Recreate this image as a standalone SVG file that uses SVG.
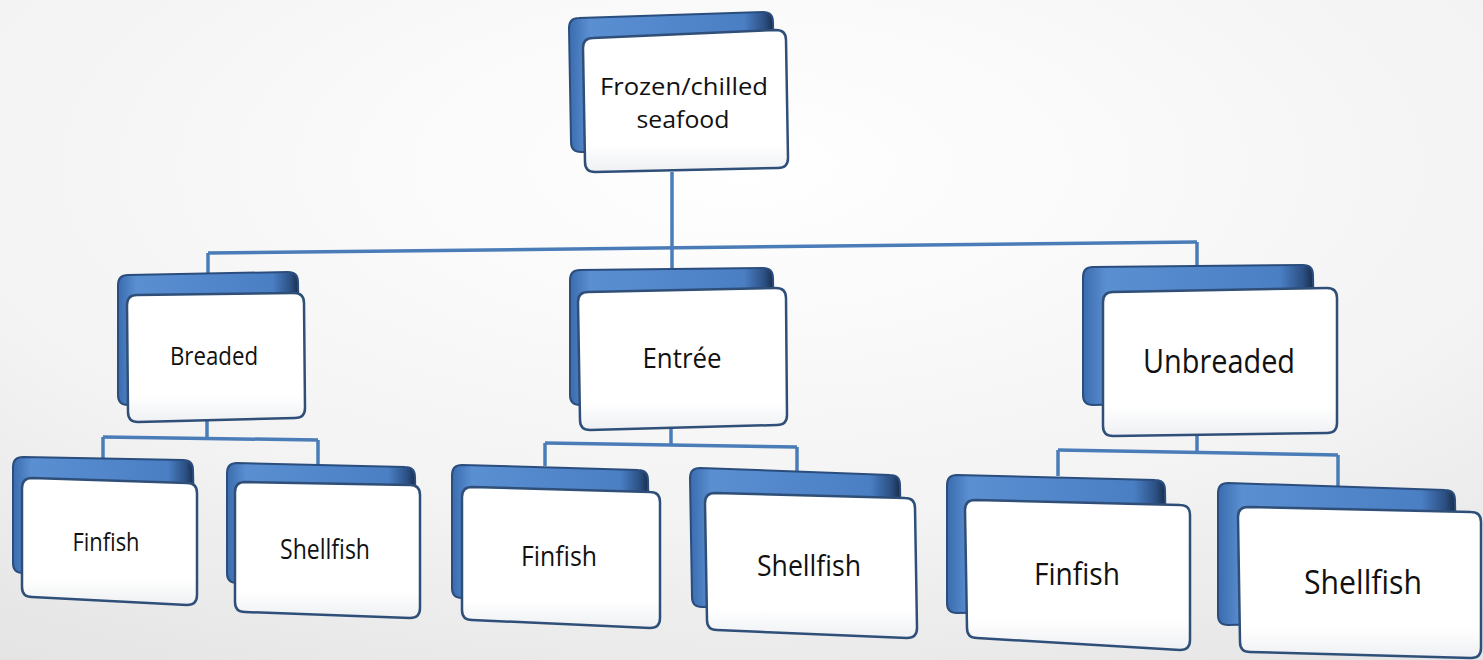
<svg xmlns="http://www.w3.org/2000/svg" width="1483" height="660" viewBox="0 0 1483 660">
<defs>
<radialGradient id="bg" cx="0.5" cy="0.25" r="0.9">
<stop offset="0" stop-color="#ffffff"/>
<stop offset="0.6" stop-color="#f3f3f3"/>
<stop offset="1" stop-color="#e4e4e4"/>
</radialGradient>
<linearGradient id="blue" x1="0" y1="0" x2="1" y2="0">
<stop offset="0" stop-color="#3a6cae"/>
<stop offset="0.1" stop-color="#5a8fd2"/>
<stop offset="0.85" stop-color="#4a7fc4"/>
<stop offset="0.95" stop-color="#2b4f82"/>
<stop offset="1" stop-color="#16263f"/>
</linearGradient>
<linearGradient id="white" x1="0" y1="0" x2="0" y2="1">
<stop offset="0" stop-color="#ffffff"/>
<stop offset="0.8" stop-color="#ffffff"/>
<stop offset="1" stop-color="#eef0f3"/>
</linearGradient>
</defs>
<style>
.back{fill:url(#blue);stroke:#2a4d7d;stroke-width:2}
.front{fill:url(#white);stroke:#2f4f78;stroke-width:2.5}
.conn{fill:none;stroke:#4a7cb8;stroke-width:3.5}
text{font-family:"Open Sans","Liberation Sans",sans-serif;fill:#111;text-anchor:middle}
</style>
<rect width="1483" height="660" fill="url(#bg)"/>
<g id="connectors" class="conn">
<path d="M672,172 L672,248"/>
<path d="M208,253 L1197,242"/>
<path d="M208,253 V276"/>
<path d="M672,248 V271"/>
<path d="M1197,242 V268"/>
<path d="M207,420 V438"/>
<path d="M103,437 L318,440"/>
<path d="M103,437 V458"/>
<path d="M318,440 V465"/>
<path d="M671,428 V445"/>
<path d="M545,443 L797,447"/>
<path d="M545,443 V466"/>
<path d="M797,447 V472"/>
<path d="M1197,436 V452"/>
<path d="M1058,450 L1338,455"/>
<path d="M1058,450 V476"/>
<path d="M1338,455 V487"/>
</g>
<g id="root">
<path class="back" d="M579,18 L763,12 Q773,12 773,22 L775,140 Q775,150 765,150 L581,152 Q571,152 571,142 L569,28 Q569,18 579,18Z"/>
<path class="front" d="M593,38 L776,30 Q786,30 786,40 L788,158 Q788,168 778,168 L595,172 Q585,172 585,162 L583,48 Q583,38 593,38Z"/>
<text x="684" y="95" font-size="24" textLength="168" lengthAdjust="spacingAndGlyphs">Frozen/chilled</text>
<text x="683" y="128" font-size="24" textLength="93" lengthAdjust="spacingAndGlyphs">seafood</text>
</g>
<g id="breaded">
<path class="back" d="M128,275 L288,272 Q298,272 298,282 L300,390 Q300,400 290,400 L128,405 Q118,405 118,395 L118,285 Q118,275 128,275Z"/>
<path class="front" d="M137,295 L294,293 Q304,293 304,303 L305,408 Q305,418 295,418 L138,422 Q128,422 128,412 L127,305 Q127,295 137,295Z"/>
<text x="214" y="365" font-size="26" textLength="88" lengthAdjust="spacingAndGlyphs">Breaded</text>
</g>
<g id="entree">
<path class="back" d="M580,270 L763,268 Q773,268 773,278 L775,390 Q775,400 765,400 L580,405 Q570,405 570,395 L570,280 Q570,270 580,270Z"/>
<path class="front" d="M588,292 L776,288 Q786,288 786,298 L787,415 Q787,425 777,425 L590,430 Q580,430 580,420 L578,302 Q578,292 588,292Z"/>
<text x="682" y="368" font-size="28" textLength="79" lengthAdjust="spacingAndGlyphs">Entrée</text>
</g>
<g id="unbreaded">
<path class="back" d="M1093,267 L1303,265 Q1313,265 1313,275 L1315,390 Q1315,400 1305,400 L1093,405 Q1083,405 1083,395 L1083,277 Q1083,267 1093,267Z"/>
<path class="front" d="M1113,292 L1327,288 Q1337,288 1337,298 L1337,423 Q1337,433 1327,433 L1113,436 Q1103,436 1103,426 L1103,302 Q1103,292 1113,292Z"/>
<text x="1219" y="373" font-size="32" textLength="152" lengthAdjust="spacingAndGlyphs">Unbreaded</text>
</g>
<g id="finfish1">
<path class="back" d="M23,457 L183,460 Q193,460 193,470 L195,560 Q195,570 185,570 L23,573 Q13,573 13,563 L13,467 Q13,457 23,457Z"/>
<path class="front" d="M32,478 L187,483 Q197,483 197,493 L197,595 Q197,605 187,605 L32,597 Q22,597 22,587 L22,488 Q22,478 32,478Z"/>
<text x="106" y="551" font-size="25" textLength="67" lengthAdjust="spacingAndGlyphs">Finfish</text>
</g>
<g id="shellfish1">
<path class="back" d="M237,463 L405,467 Q415,467 415,477 L417,570 Q417,580 407,580 L237,583 Q227,583 227,573 L227,473 Q227,463 237,463Z"/>
<path class="front" d="M245,482 L410,485 Q420,485 420,495 L420,608 Q420,618 410,618 L245,612 Q235,612 235,602 L235,492 Q235,482 245,482Z"/>
<text x="325" y="559" font-size="27" textLength="90" lengthAdjust="spacingAndGlyphs">Shellfish</text>
</g>
<g id="finfish2">
<path class="back" d="M462,465 L638,470 Q648,470 648,480 L650,585 Q650,595 640,595 L462,598 Q452,598 452,588 L452,475 Q452,465 462,465Z"/>
<path class="front" d="M472,487 L650,492 Q660,492 660,502 L660,618 Q660,628 650,628 L472,620 Q462,620 462,610 L462,497 Q462,487 472,487Z"/>
<text x="559" y="566" font-size="28" textLength="76" lengthAdjust="spacingAndGlyphs">Finfish</text>
</g>
<g id="shellfish2">
<path class="back" d="M700,468 L890,475 Q900,475 900,485 L902,595 Q902,605 892,605 L702,607 Q692,607 692,597 L690,478 Q690,468 700,468Z"/>
<path class="front" d="M715,493 L905,498 Q915,498 915,508 L917,628 Q917,638 907,638 L717,630 Q707,630 707,620 L705,503 Q705,493 715,493Z"/>
<text x="809" y="576" font-size="30" textLength="104" lengthAdjust="spacingAndGlyphs">Shellfish</text>
</g>
<g id="finfish3">
<path class="back" d="M957,475 L1155,480 Q1165,480 1165,490 L1167,600 Q1167,610 1157,610 L957,613 Q947,613 947,603 L947,485 Q947,475 957,475Z"/>
<path class="front" d="M975,500 L1180,505 Q1190,505 1190,515 L1190,640 Q1190,650 1180,650 L977,638 Q967,638 967,628 L965,510 Q965,500 975,500Z"/>
<text x="1077" y="585" font-size="31" textLength="86" lengthAdjust="spacingAndGlyphs">Finfish</text>
</g>
<g id="shellfish3">
<path class="back" d="M1228,483 L1445,490 Q1455,490 1455,500 L1457,610 Q1457,620 1447,620 L1228,625 Q1218,625 1218,615 L1218,493 Q1218,483 1228,483Z"/>
<path class="front" d="M1248,507 L1471,512 Q1481,512 1481,522 L1481,648 Q1481,658 1471,658 L1250,652 Q1240,652 1240,642 L1238,517 Q1238,507 1248,507Z"/>
<text x="1363" y="594" font-size="33" textLength="118" lengthAdjust="spacingAndGlyphs">Shellfish</text>
</g>
</svg>
